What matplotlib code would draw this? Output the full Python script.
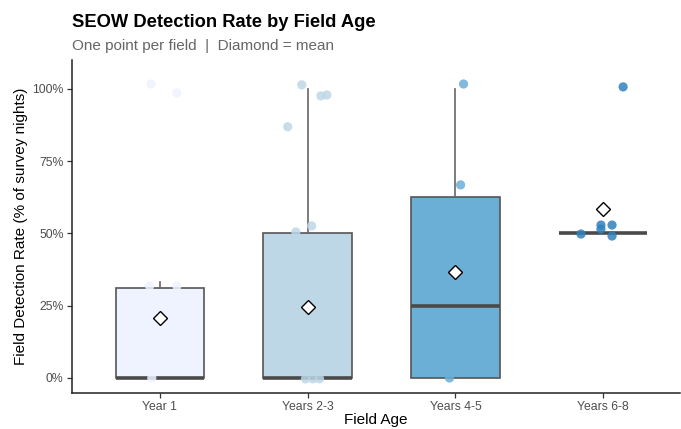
import matplotlib
matplotlib.use("Agg")
import matplotlib.pyplot as plt
from matplotlib.ticker import PercentFormatter

plt.rcParams['font.family'] = ['Liberation Sans', 'DejaVu Sans']

# =========================
# DATA
# =========================
groups = ["Year 1", "Years 2-3", "Years 4-5", "Years 6-8"]
colors = ["#eff3ff", "#bdd7e7", "#6baed6", "#3182bd"]

# box stats (fraction of survey nights)
q1 = [0.0, 0.0, 0.0, 0.5]
med = [0.0, 0.0, 0.25, 0.5]
q3 = [0.3125, 0.5, 0.625, 0.5]
whis_lo = [0.0, 0.0, 0.0, 0.5]
whis_hi = [0.333, 1.0, 1.0, 0.5]
means = [0.208, 0.245, 0.367, 0.583]

# jittered field points: (group index, x jitter, value)
pt_group = [0, 0, 0, 0, 0,
            1, 1, 1, 1, 1, 1, 1, 1, 1,
            2, 2, 2, 2,
            3, 3, 3, 3, 3, 3]
pt_jitter = [-0.06, 0.115, -0.07, 0.115, -0.055,
             -0.04, 0.09, 0.13, -0.135, 0.027, -0.08, -0.015, 0.035, 0.08,
             0.055, 0.035, 0.04, -0.04,
             0.135, -0.15, -0.015, -0.015, 0.06, 0.06]
pt_value = [1.017, 0.986, 0.318, 0.318, 0.0,
            1.014, 0.976, 0.979, 0.869, 0.526, 0.505, -0.003, -0.003, -0.003,
            1.017, 0.668, 0.525, 0.0,
            1.007, 0.498, 0.529, 0.515, 0.529, 0.491]

# =========================
# PLOT
# =========================
fig = plt.figure(figsize=(6.81, 4.29), dpi=100)
ax = fig.add_axes([72 / 681, 1 - 393 / 429, 608 / 681, 333 / 429])

positions = list(range(1, len(groups) + 1))
stats = []
for i, g in enumerate(groups):
    stats.append({"label": g, "q1": q1[i], "med": med[i], "q3": q3[i],
                  "whislo": whis_lo[i], "whishi": whis_hi[i], "fliers": []})

bp = ax.bxp(stats, positions=positions, widths=0.6, patch_artist=True,
            showfliers=False, showcaps=False,
            boxprops=dict(edgecolor="#555555", linewidth=1.2),
            whiskerprops=dict(color="#666666", linewidth=1.2),
            medianprops=dict(color="#4a4a4a", linewidth=2.6, solid_capstyle="butt"),
            zorder=2)
for patch, c in zip(bp["boxes"], colors):
    patch.set_facecolor(c)

# points
xs = [positions[g] + j for g, j in zip(pt_group, pt_jitter)]
pcols = [colors[g] for g in pt_group]
ax.scatter(xs, pt_value, s=44, c=pcols, alpha=0.85, linewidths=0, zorder=3)

# means
ax.plot(positions, means, linestyle="none", marker="D", markersize=6.8,
        markerfacecolor="white", markeredgecolor="black", markeredgewidth=1.0,
        zorder=4)

ax.set_xlim(0.405, 4.52)
ax.set_ylim(-0.052, 1.10)
ax.set_yticks([0, 0.25, 0.5, 0.75, 1.0])
ax.yaxis.set_major_formatter(PercentFormatter(1.0, decimals=0))
ax.set_xticks(positions)
ax.set_xticklabels(groups)

for side in ["top", "right"]:
    ax.spines[side].set_visible(False)
for side in ["left", "bottom"]:
    ax.spines[side].set_color("#222222")
    ax.spines[side].set_linewidth(1.1)
ax.tick_params(axis="both", labelsize=8.8, labelcolor="#4d4d4d",
               color="#333333", length=3.5, width=0.9, pad=2.5)

ax.set_xlabel("Field Age", fontsize=11, labelpad=0)
ax.set_ylabel("Field Detection Rate (% of survey nights)", fontsize=11, labelpad=3)

fig.text(72 / 681, 1 - 27.3 / 429, "SEOW Detection Rate by Field Age",
         fontsize=13.2, fontweight="bold", va="baseline", ha="left")
fig.text(72 / 681, 1 - 50 / 429, "One point per field  |  Diamond = mean",
         fontsize=11, color="#666666", va="baseline", ha="left")

fig.savefig("out.png", dpi=100)
